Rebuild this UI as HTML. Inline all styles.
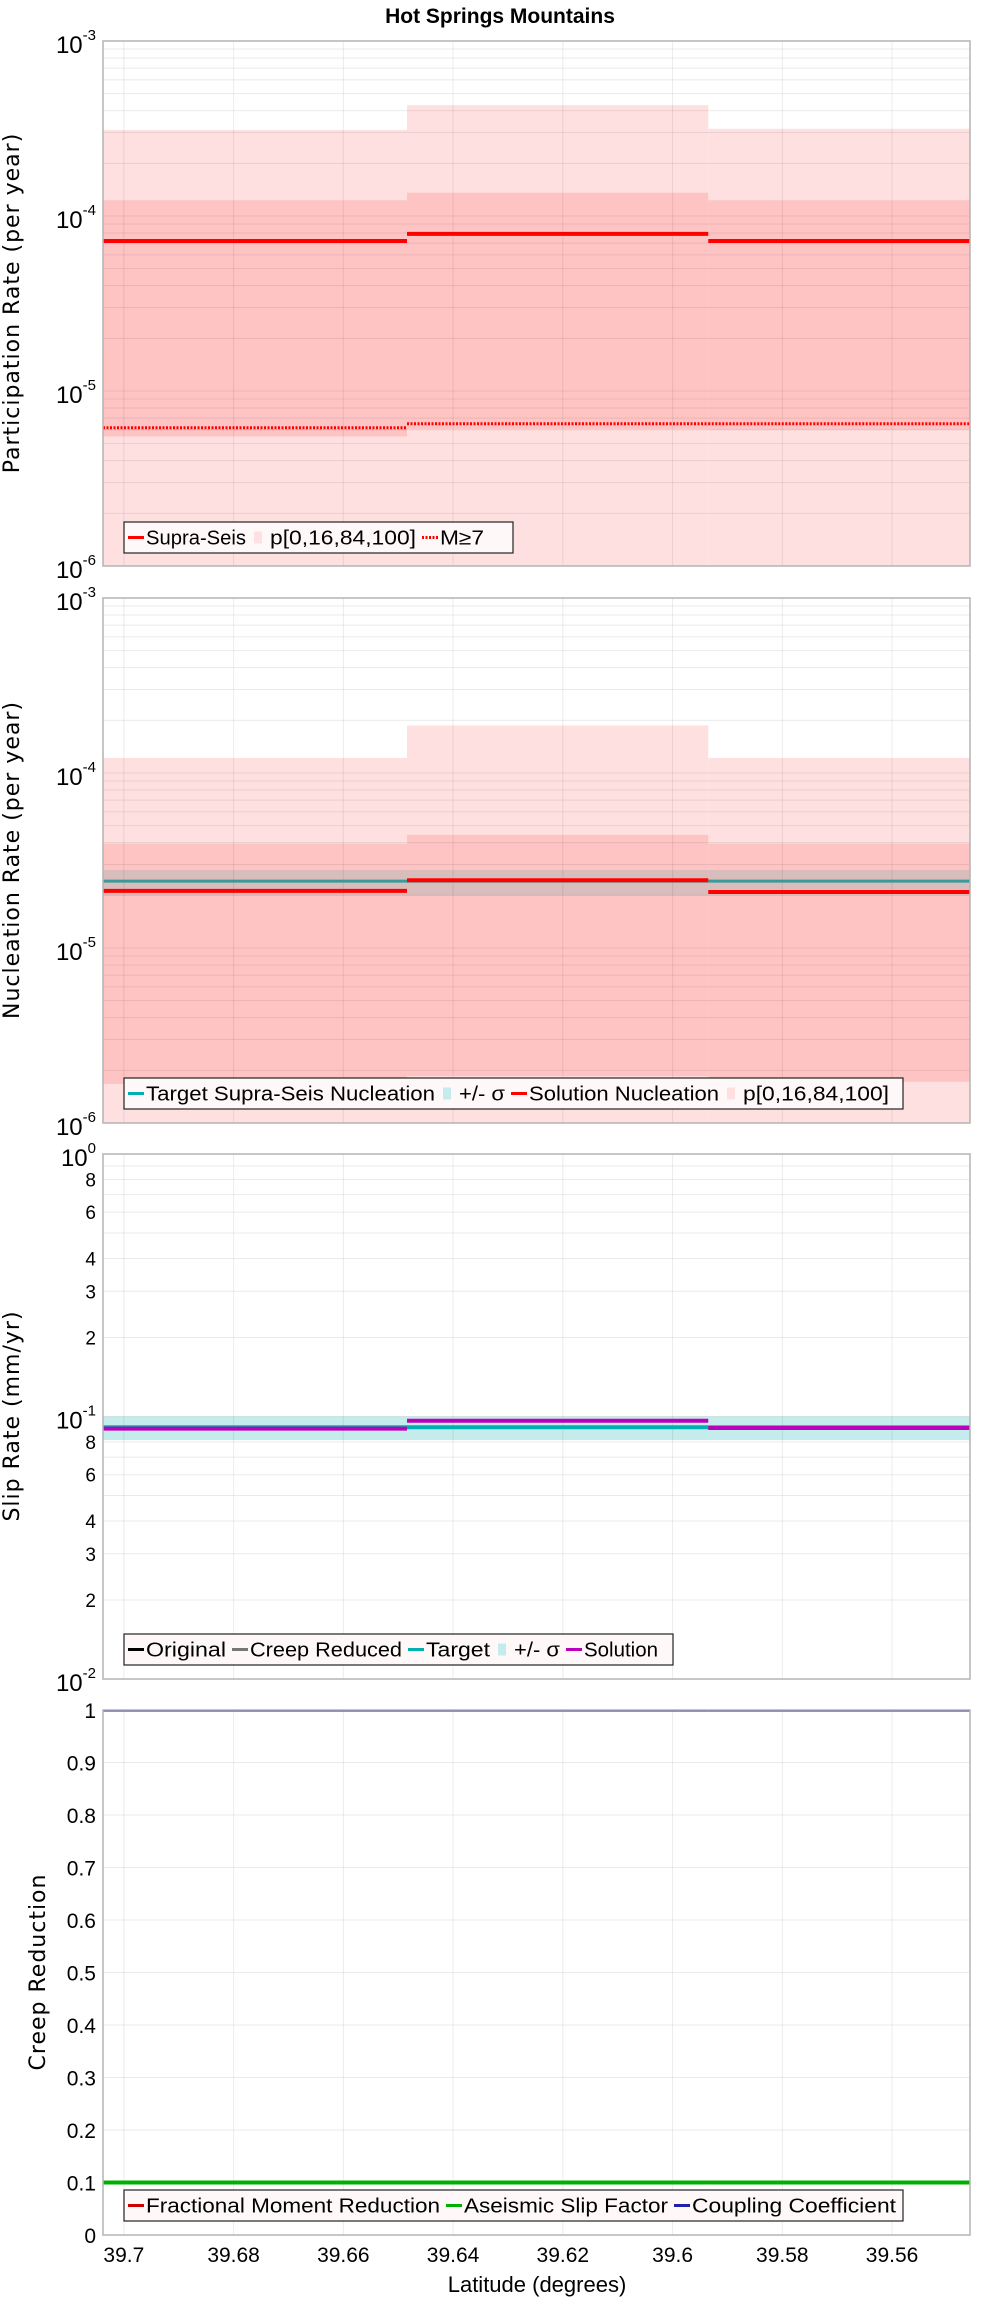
<!DOCTYPE html>
<html><head><meta charset="utf-8"><style>
html,body{margin:0;padding:0;background:#fff;}
svg text{font-family:"Liberation Sans",sans-serif;}
</style></head><body>
<svg id="chart" width="1000" height="2300" xmlns="http://www.w3.org/2000/svg">
<text x="500" y="23" text-anchor="middle" font-size="21" font-weight="bold">Hot Springs Mountains</text>
<text x="537" y="2292" text-anchor="middle" font-size="22">Latitude (degrees)</text>
</svg>
<script>
// Segment boundaries (latitude)
const segEdges = [39.7038, 39.6484, 39.5935, 39.5458];
const xTicks = [39.7, 39.68, 39.66, 39.64, 39.62, 39.6, 39.58, 39.56];
// Panel 1: participation
const partP100 = [3.1e-4, 4.3e-4, 3.15e-4];
const partP84 = [1.23e-4, 1.36e-4, 1.23e-4];
const partP16 = [5.5e-6, 6.05e-6, 6.0e-6];
const partP0 = [1e-7, 1e-7, 1e-7];
const partSupra = [7.2e-5, 7.9e-5, 7.2e-5];
const partM7 = [6.17e-6, 6.5e-6, 6.5e-6];
// Panel 2: nucleation
const nuclP100 = [1.22e-4, 1.87e-4, 1.22e-4];
const nuclP84 = [3.95e-5, 4.43e-5, 3.95e-5];
const nuclP16 = [1.67e-6, 1.85e-6, 1.72e-6];
const nuclP0 = [1e-7, 1e-7, 1e-7];
const nuclTarget = [2.41e-5, 2.41e-5, 2.41e-5];
const nuclSigLo = [2.0e-5, 2.0e-5, 2.0e-5];
const nuclSigHi = [2.79e-5, 2.79e-5, 2.79e-5];
const nuclSolution = [2.12e-5, 2.44e-5, 2.09e-5];
// Panel 3: slip rate
const slipTarget = [0.091, 0.091, 0.091];
const slipSigLo = [0.0813, 0.0813, 0.0813];
const slipSigHi = [0.1, 0.1, 0.1];
const slipSolution = [0.0899, 0.0963, 0.0904];
// Panel 4: creep
const creepFMR = [0.1, 0.1, 0.1];
const creepASF = [0.1, 0.1, 0.1];
const creepCoupling = [1, 1, 1];
const creepTicks = [0,0.1,0.2,0.3,0.4,0.5,0.6,0.7,0.8,0.9,1];

const NS = "http://www.w3.org/2000/svg";
const svg = document.getElementById('chart');
const L = 103, R = 970;
function xPx(lat){ return L + (segEdges[0]-lat)/(segEdges[0]-segEdges[segEdges.length-1])*(R-L); }
function mk(tag, attrs, parent){ const e=document.createElementNS(NS,tag); for(const k in attrs) e.setAttribute(k,attrs[k]); (parent||svg).appendChild(e); return e; }
function logScale(top,bottom,lo,hi){ return v=>{ const c=Math.max(v,lo/10); return bottom-(Math.log10(c)-Math.log10(lo))/(Math.log10(hi)-Math.log10(lo))*(bottom-top);} }
function linScale(top,bottom,lo,hi){ return v=> bottom-(v-lo)/(hi-lo)*(bottom-top); }

function panel(top,bottom,name){
  const g=mk('g',{});
  
  
  const clip=mk('clipPath',{id:'clip-'+name},g);
  mk('rect',{x:L,y:top,width:R-L,height:bottom-top},clip);
  const inner=mk('g',{'clip-path':'url(#clip-'+name+')'},g);
  return {g,inner};
}
function grid(p,top,bottom,ys){
  for(const t of xTicks){ const l=mk('line',{x1:xPx(t),x2:xPx(t),y1:top,y2:bottom,stroke:'rgba(0,0,0,0.08)','stroke-width':1},p.inner);
      }
  for(const y of ys){ const l=mk('line',{x1:L,x2:R,y1:y,y2:y,stroke:'rgba(0,0,0,0.08)','stroke-width':1},p.inner);
      }
}
function band(p,ys,lo,hi,fill,name){
  for(let i=0;i<lo.length;i++){
    const y1=ys(hi[i]), y2=ys(lo[i]);
    const r=mk('rect',{x:xPx(segEdges[i]),y:y1,width:xPx(segEdges[i+1])-xPx(segEdges[i]),height:y2-y1,fill:fill},p.inner);
    
    
  }
}
function steps(p,ys,vals,color,w,name,dash){
  for(let i=0;i<vals.length;i++){
    const a={x1:xPx(segEdges[i]),x2:xPx(segEdges[i+1]),y1:ys(vals[i]),y2:ys(vals[i]),stroke:color,'stroke-width':w};
    if(dash) a['stroke-dasharray']=dash;
    const l=mk('line',a,p.inner);
    
    
  }
}
function frame(p,top,bottom){
  const r=mk('rect',{x:L,y:top,width:R-L,height:bottom-top,fill:'none',stroke:'#b4b4b4','stroke-width':1.5},p.g);
   
}
function logTicks(p,ys,lo,hi,minorLabels){
  const gl=[];
  for(let e=Math.log10(lo);e<=Math.log10(hi)+1e-9;e++){
    const v=Math.pow(10,e);
    const t=mk('text',{x:96,y:ys(v)+12,'text-anchor':'end','font-size':24},p.g);
     
    t.appendChild(document.createTextNode('10'));
    const s=mk('tspan',{dy:-13,'font-size':15},t); s.textContent=String(e);
    if(e<Math.log10(hi)-1e-9){
      for(let m=2;m<=9;m++){ gl.push(ys(m*v));
        if(minorLabels && [2,3,4,6,8].includes(m)){
          const tt=mk('text',{x:96,y:ys(m*v)+7,'text-anchor':'end','font-size':19},p.g);
           
          tt.textContent=String(m);
        }
      }
    }
    gl.push(ys(v));
  }
  return gl;
}
function yTitle(text,x,cy,name){
  const t=mk('text',{x:x,y:cy,'text-anchor':'middle','font-size':22,transform:'rotate(-90 '+x+' '+cy+')'});
   
  t.setAttribute('style','font-family:"DejaVu Sans",sans-serif;letter-spacing:1px');
  t.textContent=text;
}
function legend(x,y,w,h,items,name){
  const g=mk('g',{});
  
  
  mk('rect',{x:x,y:y,width:w,height:h,fill:'#fff8f8',stroke:'#222','stroke-width':1.2},g);
  let cx=x+4; const cy=y+h/2;
  for(const it of items){
    const eg=mk('g',{},g);
    
    
    if(it.type==='box') mk('rect',{x:cx+2,y:cy-6,width:8,height:12,fill:it.color},eg);
    else mk('line',{x1:cx,x2:cx+16,y1:cy,y2:cy,stroke:it.color,'stroke-width':3,'stroke-dasharray':it.dash||''},eg);
    const t=mk('text',{x:cx+18,y:cy+7,'font-size':20,textLength:it.w-6,lengthAdjust:'spacingAndGlyphs'},eg); t.textContent=it.label;
    cx+=18+it.w;
  }
}

// Panel 1
{
  const top=41,bottom=566; const ys=logScale(top,bottom,1e-6,1e-3);
  const p=panel(top,bottom,'participation-panel');
  const gl=logTicks(p,ys,1e-6,1e-3,false);
  band(p,ys,partP0,partP100,'#ffe0e0','band-p0-p100');
  band(p,ys,partP16,partP84,'#fec4c4','band-p16-p84');
  grid(p,top,bottom,gl);
  steps(p,ys,partSupra,'#ff0000',4,'supra-seis-line');
  steps(p,ys,partM7,'#ff0000',3,'m7-line','2,1.5');
  frame(p,top,bottom);
  yTitle('Participation Rate (per year)',19,303,'y-axis-title-participation');
  legend(124,522,389,31,[{label:'Supra-Seis',color:'#ff0000',w:106},{label:'p[0,16,84,100]',type:'box',color:'#ffe0e0',w:152},{label:'M≥7',color:'#ff0000',dash:'2,1.5',w:50}],'legend-participation');
}
// Panel 2
{
  const top=598,bottom=1123; const ys=logScale(top,bottom,1e-6,1e-3);
  const p=panel(top,bottom,'nucleation-panel');
  const gl=logTicks(p,ys,1e-6,1e-3,false);
  band(p,ys,nuclP0,nuclP100,'#ffe0e0','band-p0-p100');
  band(p,ys,nuclP16,nuclP84,'#fec4c4','band-p16-p84');
  band(p,ys,nuclSigLo,nuclSigHi,'rgba(150,175,175,0.35)','target-sigma-band');
  grid(p,top,bottom,gl);
  steps(p,ys,nuclTarget,'#3a9a9a',3,'target-nucleation-line');
  steps(p,ys,nuclSolution,'#ff0000',4,'solution-nucleation-line');
  frame(p,top,bottom);
  yTitle('Nucleation Rate (per year)',19,860,'y-axis-title-nucleation');
  legend(124,1078,779,31,[{label:'Target Supra-Seis Nucleation',color:'#00b0b0',w:295},{label:'+/- σ',type:'box',color:'#c4ecec',w:52},{label:'Solution Nucleation',color:'#ff0000',w:196},{label:'p[0,16,84,100]',type:'box',color:'#ffe0e0',w:152}],'legend-nucleation');
}
// Panel 3
{
  const top=1154,bottom=1679; const ys=logScale(top,bottom,1e-2,1);
  const p=panel(top,bottom,'slip-rate-panel');
  const gl=logTicks(p,ys,1e-2,1,true);
  band(p,ys,slipSigLo,slipSigHi,'#c4ecec','target-sigma-band');
  grid(p,top,bottom,gl);
  steps(p,ys,slipTarget,'#00b0b0',4,'target-slip-line');
  steps(p,ys,slipSolution,'#bb00bb',4,'solution-slip-line');
  frame(p,top,bottom);
  yTitle('Slip Rate (mm/yr)',19,1416,'y-axis-title-slip');
  legend(124,1634,549,31,[{label:'Original',color:'#000',w:86},{label:'Creep Reduced',color:'#777',w:158},{label:'Target',color:'#00b0b0',w:70},{label:'+/- σ',type:'box',color:'#c4ecec',w:52},{label:'Solution',color:'#bb00bb',w:80}],'legend-slip');
}
// Panel 4
{
  const top=1710,bottom=2235; const ys=linScale(top,bottom,0,1);
  const p=panel(top,bottom,'creep-panel');
  grid(p,top,bottom,creepTicks.map(ys));
  for(const v of creepTicks){
    const t=mk('text',{x:96,y:ys(v)+8,'text-anchor':'end','font-size':21},p.g);
     
    t.textContent=String(v);
  }
  steps(p,ys,creepFMR,'#cc0000',3,'fractional-moment-reduction-line');
  steps(p,ys,creepASF,'#00b000',4,'aseismic-slip-factor-line');
  steps(p,ys,creepCoupling,'#2020b0',3,'coupling-coefficient-line');
  frame(p,top,bottom);
  yTitle('Creep Reduction',45,1972,'y-axis-title-creep');
  legend(124,2190,779,31,[{label:'Fractional Moment Reduction',color:'#cc0000',w:300},{label:'Aseismic Slip Factor',color:'#00b000',w:210},{label:'Coupling Coefficient',color:'#2020b0',w:210}],'legend-creep');
  for(const t of xTicks){
    const tx=mk('text',{x:xPx(t),y:2262,'text-anchor':'middle','font-size':21});
     
    tx.textContent=String(t);
  }
}
</script>
</body></html>
